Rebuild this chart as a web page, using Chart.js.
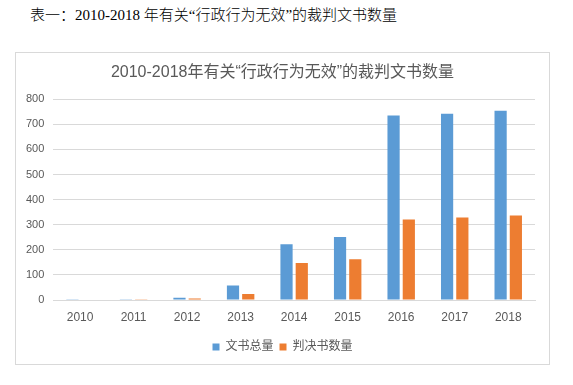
<!DOCTYPE html>
<html>
<head>
<meta charset="utf-8">
<script src="https://cdn.jsdelivr.net/npm/chart.js@4.4.1/dist/chart.umd.min.js"></script>
<style>
  html, body { margin: 0; padding: 0; background: #fff; }
  body { width: 573px; height: 385px; position: relative; overflow: hidden; }
  #caption { position: absolute; left: 30px; top: 5px; font-family: "Liberation Serif", "Noto Sans CJK SC", serif; font-size: 15px; font-weight: 300; color: #000; white-space: nowrap; line-height: 20px; }
  #box { position: absolute; left: 15px; top: 52px; width: 533px; height: 311px; border: 1px solid #d9d9d9; }
  #c { position: absolute; left: 0; top: 0; }
</style>
</head>
<body>
<div id="caption">表一：2010-2018 年有关“行政行为无效”的裁判文书数量</div>
<div id="box"></div>
<canvas id="c" width="573" height="385"></canvas>
<script>
const categories = ["2010", "2011", "2012", "2013", "2014", "2015", "2016", "2017", "2018"];
const totalDocs = [1, 3, 9, 58, 222, 251, 735, 742, 754];
const judgmentDocs = [0, 1, 6, 24, 147, 162, 321, 329, 337];
const seriesNames = ["文书总量", "判决书数量"];
const chartTitle = "2010-2018年有关“行政行为无效”的裁判文书数量";

const FONT = '"Liberation Sans", "Noto Sans CJK SC", Arial, sans-serif';
const GREY = '#595959';

const shiftBoxes = {
  id: 'shiftBoxes',
  afterLayout(chart) {
    if (chart.titleBlock) { chart.titleBlock.left += 15; }
    if (chart.legend) { chart.legend.left += 15; }
  }
};

new Chart(document.getElementById('c'), {
  type: 'bar',
  data: {
    labels: categories,
    datasets: [
      { label: seriesNames[0], data: totalDocs, backgroundColor: '#5B9BD5', categoryPercentage: 0.57, barPercentage: 0.8 },
      { label: seriesNames[1], data: judgmentDocs, backgroundColor: '#ED7D31', categoryPercentage: 0.57, barPercentage: 0.8 }
    ]
  },
  plugins: [shiftBoxes],
  options: {
    responsive: false,
    animation: false,
    devicePixelRatio: 1,
    layout: { padding: { left: 15, right: 38, top: 0, bottom: 22 } },
    plugins: {
      title: {
        display: true, text: chartTitle, color: GREY,
        font: { family: FONT, size: 16, weight: 'normal' },
        padding: { top: 63, bottom: 17 }
      },
      legend: {
        position: 'bottom',
        labels: { boxWidth: 7, boxHeight: 7, padding: 6, color: GREY, font: { family: FONT, size: 12 } }
      },
      tooltip: { enabled: false }
    },
    scales: {
      x: {
        grid: { display: false, drawTicks: false },
        border: { color: '#d9d9d9' },
        ticks: { color: GREY, font: { family: FONT, size: 12 }, padding: 10, maxRotation: 0 },
        afterFit: (s) => { s.height = 35; }
      },
      y: {
        min: 0, max: 800,
        ticks: { stepSize: 100, color: GREY, font: { family: FONT, size: 11 }, padding: 9 },
        grid: { color: '#d9d9d9', drawTicks: false },
        border: { display: false },
        afterFit: (s) => { s.width = 38.3; }
      }
    }
  }
});
</script>
</body>
</html>
